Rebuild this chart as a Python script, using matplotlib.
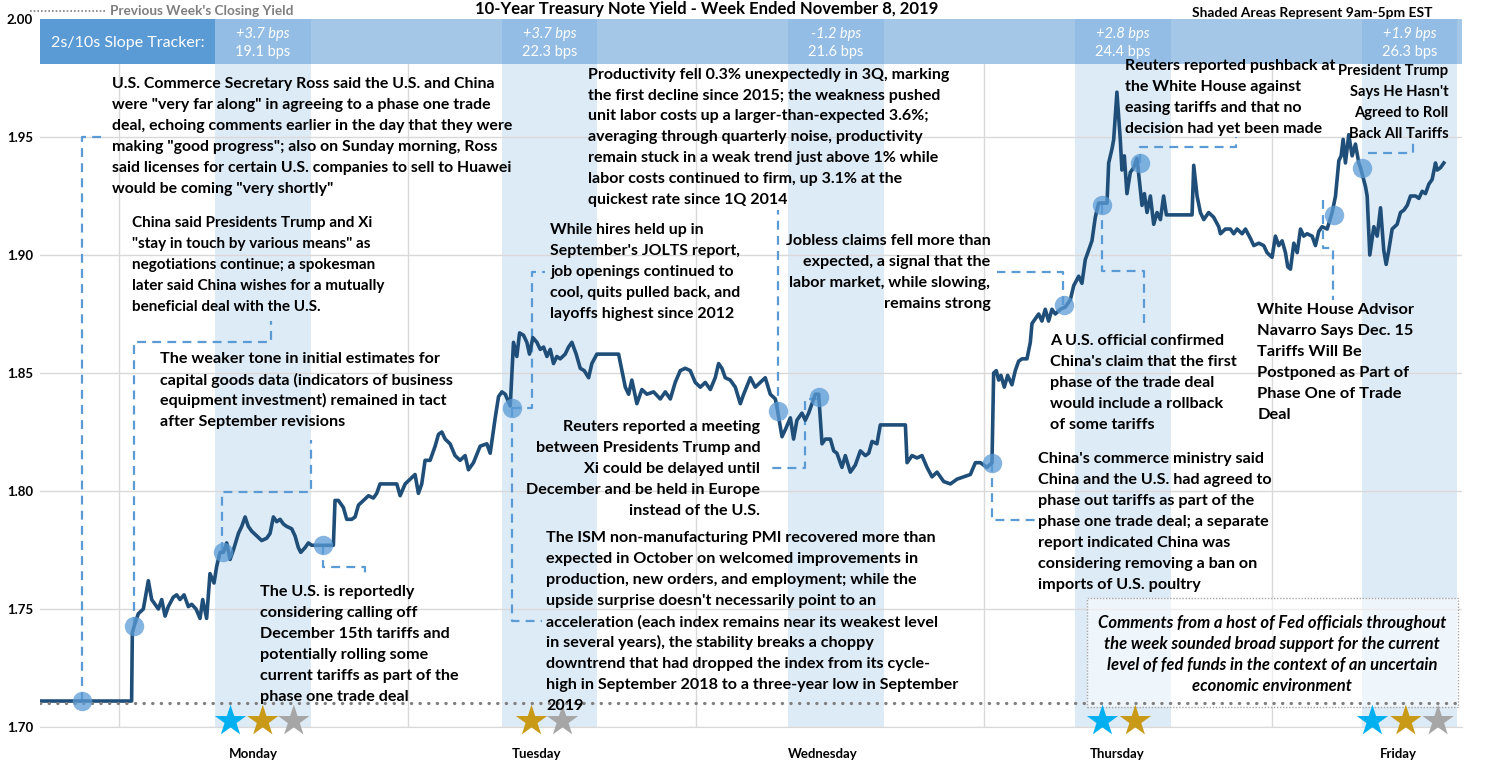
import matplotlib
matplotlib.use("Agg")
import matplotlib.pyplot as plt
from matplotlib.patches import Rectangle
from matplotlib.lines import Line2D

plt.rcParams['font.family'] = ['Lato', 'DejaVu Sans']

# hours since Monday 00:00 EST  /  10-year yield (%)
hours = [-5.65, 2.02, 2.08, 2.25, 2.58, 3.00, 3.42, 3.70, 3.98, 4.26, 4.54, 4.82, 5.09, 5.51, 5.79,
         6.07, 6.41, 6.77, 7.05, 7.41, 7.75, 7.97, 8.30, 8.58, 8.92, 9.14, 9.42, 9.70, 9.98, 10.26,
         10.54, 10.96, 11.24, 11.52, 11.79, 12.07, 12.49, 12.91, 13.33, 13.61, 13.89, 14.17, 14.45,
         14.73, 15.00, 15.42, 15.70, 15.98, 16.18, 16.54, 16.82, 17.10, 18.91, 19.05, 19.33, 19.75,
         20.03, 20.45, 20.73, 21.01, 21.43, 21.85, 22.26, 22.54, 22.82, 23.24, 24.22, 24.50, 24.92,
         25.33, 25.75, 26.03, 26.31, 26.59, 27.01, 27.43, 27.71, 27.99, 28.27, 28.68, 29.10, 29.52,
         29.94, 30.22, 30.64, 31.20, 31.76, 32.04, 32.46, 32.74, 33.02, 33.30, 33.72, 33.99, 34.27,
         34.50, 34.83, 35.11, 35.33, 35.61, 35.95, 36.23, 36.51, 36.79, 37.07, 37.34, 37.62, 37.90,
         38.32, 38.60, 38.88, 39.24, 39.58, 39.91, 40.28, 40.55, 40.97, 42.79, 43.07, 43.35, 43.63,
         43.90, 44.32, 44.74, 45.16, 45.72, 46.28, 46.70, 47.12, 47.53, 47.95, 48.37, 48.79, 49.21,
         49.63, 50.05, 50.47, 50.88, 51.16, 51.44, 51.72, 52.14, 52.56, 52.98, 53.26, 53.82, 54.23,
         54.65, 55.07, 55.49, 55.91, 56.10, 56.47, 56.75, 57.17, 57.44, 57.72, 58.14, 58.42, 58.70,
         58.98, 59.26, 59.54, 59.82, 60.10, 60.52, 60.80, 61.07, 61.49, 61.77, 62.19, 62.61, 63.03,
         63.45, 63.73, 64.01, 64.42, 64.70, 66.80, 66.94, 67.36, 67.77, 68.19, 68.61, 69.03, 69.45,
         70.01, 70.57, 71.12, 71.68, 72.24, 72.66, 73.08, 73.63, 74.05, 74.19, 74.41, 74.61, 74.80,
         75.08, 75.36, 75.72, 76.00, 76.28, 76.56, 76.98, 77.26, 77.40, 77.68, 77.96, 78.23, 78.51,
         78.79, 79.07, 79.35, 79.77, 80.19, 80.61, 80.89, 81.31, 81.58, 81.86, 82.14, 82.42, 82.70,
         82.98, 83.68, 83.82, 84.10, 84.24, 84.51, 84.79, 84.93, 85.13, 85.35, 85.63, 85.91, 86.19,
         86.61, 86.81, 87.03, 87.31, 87.59, 87.87, 88.15, 88.42, 88.65, 90.80, 90.94, 91.22, 91.50,
         91.78, 92.19, 92.61, 93.03, 93.18, 93.59, 94.01, 94.29, 94.57, 94.99, 95.27, 95.69, 95.97,
         96.39, 96.80, 97.08, 97.50, 97.78, 98.06, 98.34, 98.62, 98.81, 99.04, 99.32, 99.60, 99.88,
         100.15, 100.43, 100.85, 101.13, 101.41, 101.69, 102.11, 102.53, 102.81, 103.09, 103.28,
         103.45, 103.64, 103.92, 104.20, 104.48, 104.76, 104.90, 105.32, 105.46, 105.68, 106.02,
         106.30, 106.58, 106.85, 107.05, 107.27, 107.55, 107.97, 108.25, 108.53, 108.81, 109.09,
         109.51, 109.79, 110.07, 110.34, 110.62, 110.90, 111.18, 111.32, 111.60, 111.88]
yields = [1.711, 1.711, 1.740, 1.743, 1.748, 1.750, 1.762, 1.754, 1.752, 1.750, 1.754, 1.747, 1.751,
          1.755, 1.756, 1.754, 1.756, 1.751, 1.752, 1.750, 1.746, 1.754, 1.746, 1.765, 1.761, 1.768,
          1.774, 1.774, 1.778, 1.771, 1.775, 1.782, 1.785, 1.789, 1.785, 1.783, 1.781, 1.779, 1.780,
          1.782, 1.789, 1.787, 1.788, 1.786, 1.785, 1.784, 1.781, 1.776, 1.774, 1.776, 1.778, 1.777,
          1.777, 1.796, 1.796, 1.793, 1.788, 1.788, 1.789, 1.794, 1.796, 1.798, 1.797, 1.799, 1.803,
          1.803, 1.803, 1.798, 1.803, 1.805, 1.807, 1.799, 1.803, 1.813, 1.813, 1.819, 1.824, 1.825,
          1.822, 1.820, 1.815, 1.813, 1.815, 1.809, 1.812, 1.819, 1.820, 1.816, 1.831, 1.840, 1.842,
          1.841, 1.836, 1.863, 1.857, 1.867, 1.866, 1.863, 1.858, 1.865, 1.863, 1.860, 1.861, 1.857,
          1.860, 1.854, 1.857, 1.856, 1.858, 1.861, 1.863, 1.858, 1.852, 1.851, 1.848, 1.854, 1.858,
          1.858, 1.851, 1.844, 1.841, 1.847, 1.837, 1.843, 1.841, 1.842, 1.839, 1.842, 1.839, 1.846,
          1.851, 1.852, 1.851, 1.846, 1.844, 1.846, 1.843, 1.848, 1.854, 1.852, 1.848, 1.847, 1.844,
          1.837, 1.841, 1.848, 1.844, 1.846, 1.848, 1.841, 1.839, 1.834, 1.823, 1.826, 1.831, 1.822,
          1.830, 1.833, 1.830, 1.833, 1.837, 1.841, 1.841, 1.820, 1.822, 1.822, 1.817, 1.816, 1.810,
          1.815, 1.808, 1.811, 1.817, 1.815, 1.816, 1.821, 1.820, 1.828, 1.828, 1.812, 1.815, 1.814,
          1.815, 1.810, 1.806, 1.808, 1.804, 1.803, 1.805, 1.806, 1.807, 1.812, 1.812, 1.810, 1.812,
          1.850, 1.851, 1.847, 1.849, 1.844, 1.849, 1.845, 1.851, 1.855, 1.856, 1.856, 1.863, 1.871,
          1.873, 1.875, 1.872, 1.877, 1.872, 1.877, 1.875, 1.877, 1.878, 1.881, 1.887, 1.891, 1.888,
          1.898, 1.902, 1.906, 1.916, 1.922, 1.922, 1.939, 1.945, 1.949, 1.969, 1.949, 1.936, 1.942,
          1.926, 1.935, 1.937, 1.941, 1.921, 1.926, 1.918, 1.925, 1.913, 1.918, 1.915, 1.925, 1.917,
          1.917, 1.938, 1.925, 1.918, 1.915, 1.918, 1.916, 1.912, 1.909, 1.911, 1.911, 1.909, 1.911,
          1.909, 1.911, 1.907, 1.904, 1.905, 1.904, 1.901, 1.899, 1.908, 1.904, 1.906, 1.901, 1.895,
          1.894, 1.905, 1.901, 1.911, 1.908, 1.909, 1.908, 1.904, 1.910, 1.912, 1.911, 1.918, 1.925,
          1.940, 1.942, 1.949, 1.939, 1.951, 1.942, 1.947, 1.939, 1.937, 1.929, 1.925, 1.900, 1.912,
          1.908, 1.920, 1.902, 1.896, 1.902, 1.911, 1.913, 1.918, 1.919, 1.921, 1.925, 1.925, 1.924,
          1.927, 1.926, 1.930, 1.932, 1.939, 1.936, 1.937, 1.939]

prev_close = 1.71

# news events marked on the line
event_hours = [-2.14, 2.25, 9.70, 18.08, 33.85, 56.10, 59.54, 74.05, 80.05, 83.26, 86.41, 102.67, 105.04]
event_yields = [1.711, 1.743, 1.774, 1.777, 1.835, 1.834, 1.840, 1.812, 1.879, 1.921, 1.939, 1.917, 1.937]

days = ["Monday", "Tuesday", "Wednesday", "Thursday", "Friday"]
day_label_hours = [12.2, 35.9, 59.9, 84.5, 108.1]
grid_hours = [1.0, 25.2, 49.3, 73.4, 97.5]
slope_change = ["+3.7", "+3.7", "-1.2", "+2.8", "+1.9"]
slope_level = [19.1, 22.3, 21.6, 24.4, 26.3]

star_hours = [10.3, 13.0, 15.6, 35.5, 38.1, 83.3, 86.05, 105.9, 108.7, 111.4]
star_colors = ['#00B0F0', '#C99A17', '#A6A6A6', '#C99A17', '#A6A6A6',
               '#00B0F0', '#C99A17', '#00B0F0', '#C99A17', '#A6A6A6']

# text, x, y (block centre), alignment, font size
notes = [
    ("U.S. Commerce Secretary Ross said the U.S. and China\nwere \"very far along\" in agreeing to a phase one trade\n"
     "deal, echoing comments earlier in the day that they were\nmaking \"good progress\"; also on Sunday morning, Ross\n"
     "said licenses for certain U.S. companies to sell to Huawei\nwould be coming \"very shortly\"", 0.38, 1.9502, 'left', 11.4),
    ("China said Presidents Trump and Xi\n\"stay in touch by various means\" as\nnegotiations continue; a spokesman\n"
     "later said China wishes for a mutually\nbeneficial deal with the U.S.", 2.05, 1.8956, 'left', 11.0),
    ("The weaker tone in initial estimates for\ncapital goods data (indicators of business\n"
     "equipment investment) remained in tact\nafter September revisions", 4.40, 1.8426, 'left', 11.6),
    ("The U.S. is reportedly\nconsidering calling off\nDecember 15th tariffs and\npotentially rolling some\n"
     "current tariffs as part of the\nphase one trade deal", 12.77, 1.735, 'left', 11.6),
    ("Productivity fell 0.3% unexpectedly in 3Q, marking\nthe first decline since 2015; the weakness pushed\n"
     "unit labor costs up a larger-than-expected 3.6%;\naveraging through quarterly noise, productivity\n"
     "remain stuck in a weak trend just above 1% while\nlabor costs continued to firm, up 3.1% at the\n"
     "quickest rate since 1Q 2014", 40.24, 1.9498, 'left', 11.5),
    ("While hires held up in\nSeptember's JOLTS report,\njob openings continued to\ncool, quits pulled back, and\n"
     "layoffs highest since 2012", 37.06, 1.8928, 'left', 11.4),
    ("Reuters reported a meeting\nbetween Presidents Trump and\nXi could be delayed until\n"
     "December and be held in Europe\ninstead of the U.S.", 54.65, 1.8093, 'right', 11.6),
    ("The ISM non-manufacturing PMI recovered more than\nexpected in October on welcomed improvements in\n"
     "production, new orders, and employment; while the\nupside surprise doesn't necessarily point to an\n"
     "acceleration (each index remains near its weakest level\nin several years), the stability breaks a choppy\n"
     "downtrend that had dropped the index from its cycle-\nhigh in September 2018 to a three-year low in September\n"
     "2019", 36.73, 1.7445, 'left', 11.6),
    ("Jobless claims fell more than\nexpected, a signal that the\nlabor market, while slowing,\nremains strong",
     73.91, 1.8926, 'right', 11.6),
    ("A U.S. official confirmed\nChina's claim that the first\nphase of the trade deal\nwould include a rollback\n"
     "of some tariffs", 78.94, 1.8456, 'left', 11.6),
    ("China's commerce ministry said\nChina and the U.S. had agreed to\nphase out tariffs as part of the\n"
     "phase one trade deal; a separate\nreport indicated China was\nconsidering removing a ban on\n"
     "imports of U.S. poultry", 77.93, 1.7867, 'left', 11.6),
    ("Reuters reported pushback at\nthe White House against\neasing tariffs and that no\ndecision had yet been made",
     85.22, 1.9668, 'left', 11.5),
    ("President Trump\nSays He Hasn't\nAgreed to Roll\nBack All Tariffs", 112.26, 1.9648, 'right', 10.6),
    ("White House Advisor\nNavarro Says Dec. 15\nTariffs Will Be\nPostponed as Part of\nPhase One of Trade\nDeal",
     96.27, 1.8545, 'left', 11.8),
]

connectors = [
    ([-2.14, -2.14, -0.21], [1.711, 1.950, 1.950]),
    ([2.22, 2.22, 13.69, 13.69], [1.743, 1.863, 1.863, 1.872]),
    ([9.59, 9.59, 17.04, 17.04], [1.7746, 1.7996, 1.7996, 1.8216]),
    ([18.05, 18.05, 21.57, 21.57], [1.777, 1.768, 1.768, 1.763]),
    ([33.88, 35.55, 35.55, 36.64], [1.835, 1.835, 1.893, 1.893]),
    ([33.88, 33.88, 36.39], [1.835, 1.745, 1.745]),
    ([56.16, 56.16], [1.834, 1.919]),
    ([59.50, 58.42, 58.42, 55.24], [1.839, 1.839, 1.8097, 1.8097]),
    ([74.08, 74.08, 77.68], [1.812, 1.7877, 1.7877]),
    ([80.03, 80.03, 74.50], [1.879, 1.8928, 1.8928]),
    ([83.29, 83.29, 86.81, 86.81], [1.921, 1.8932, 1.8932, 1.869]),
    ([86.41, 86.41, 94.52, 94.52], [1.939, 1.9458, 1.9458, 1.950]),
    ([101.80, 101.80, 102.64, 102.64], [1.9233, 1.903, 1.903, 1.881]),
    ([105.49, 109.26, 109.26], [1.9432, 1.9432, 1.9475]),
]

fed_note = ("Comments from a host of Fed officials throughout\nthe week sounded broad support for the current\n"
            "level of fed funds in the context of an uncertain\neconomic environment")

NAVY = '#1F4E79'
MID = '#5B9BD5'
PITCH = 15.1  # points between text lines (~21px)


def block(ax, txt, x, y, ha, fs, **kw):
    # one text per line so every block keeps the same line pitch
    lines = txt.split("\n")
    for i, line in enumerate(lines):
        dy = ((len(lines) - 1) / 2 - i) * PITCH
        ax.annotate(line, (x, y), xytext=(0, dy), textcoords='offset points', ha=ha, va='center',
                    fontsize=fs, fontweight='bold', zorder=7, **kw)


fig = plt.figure(figsize=(14.87, 7.64), dpi=100)
ax = fig.add_axes([40 / 1487, 37 / 764, 1422 / 1487, 708 / 764])
ax.set_xlim(-5.65, 113.4)
ax.set_ylim(1.70, 2.00)

for s in ['top', 'right', 'left']:
    ax.spines[s].set_visible(False)
ax.spines['bottom'].set_color('#D9D9D9')

yt = [1.70, 1.75, 1.80, 1.85, 1.90, 1.95, 2.00]
ax.set_yticks(yt)
ax.set_yticklabels(["%.2f" % v for v in yt], fontweight='bold', fontsize=9.5)
ax.set_xticks(day_label_hours)
ax.set_xticklabels(days, fontweight='bold', fontsize=9.5)
ax.set_xticks(grid_hours, minor=True)
ax.tick_params(axis='both', which='both', length=0)
ax.tick_params(axis='x', pad=15)
ax.tick_params(axis='y', pad=5)
ax.grid(axis='y', color='#D9D9D9', lw=1, zorder=0.5)
ax.grid(axis='x', which='minor', color='#D9D9D9', lw=1, zorder=0.5)
ax.set_axisbelow(True)

# 9am-5pm shading
for d in range(5):
    ax.axvspan(d * 24 + 9, d * 24 + 17, color='#DDEBF7', zorder=0.3, lw=0)

# previous close and the yield line
ax.plot(hours, yields, color=NAVY, lw=2.6, zorder=3, solid_joinstyle='round')
ax.axhline(prev_close, color='#7F7F7F', lw=2.3, ls=(0, (0.1, 2.6)), dash_capstyle='round', zorder=3.5)

for xs, ys in connectors:
    ax.plot(xs, ys, color=MID, lw=1.6, ls=(0, (4, 2.8)), zorder=2.5)
ax.plot(event_hours, event_yields, 'o', ms=14, color=MID, alpha=0.75, mec='none', zorder=4)

for txt, x, y, ha, fs in notes:
    block(ax, txt, x, y, ha, fs)

# Fed comments box
ax.add_patch(Rectangle((82.03, 1.7085), 31.0, 0.0462, facecolor='white', alpha=0.5,
                       edgecolor='none', zorder=2))
ax.add_patch(Rectangle((82.03, 1.7085), 31.0, 0.0462, facecolor='none', edgecolor='#A6A6A6',
                       lw=1, ls=(0, (1, 1.2)), zorder=2.1))
block(ax, fed_note, 97.5, 1.7309, 'center', 12, style='italic')

# stars along the axis
ax.scatter(star_hours, [1.7025] * len(star_hours), marker='*', s=560, c=star_colors,
           edgecolors='none', zorder=5, clip_on=False)

# 2s/10s slope tracker band
xt = ax.get_xaxis_transform()
ax.add_patch(Rectangle((0, 0.9364), 0.124, 0.0636, transform=ax.transAxes, color=MID, lw=0, zorder=6))
ax.add_patch(Rectangle((0.124, 0.9364), 0.876, 0.0636, transform=ax.transAxes, color='#A4C7E8',
                       lw=0, zorder=6))
for d in range(5):
    ax.add_patch(Rectangle((d * 24 + 9, 0.9364), 8, 0.0636, transform=xt, color='#93BDE4',
                           lw=0, zorder=6.1))
    ax.text(d * 24 + 13, 0.979, slope_change[d] + " bps", transform=xt, ha='center', va='center',
            color='white', fontsize=10.5, style='italic', zorder=7)
    ax.text(d * 24 + 13, 0.953, "%.1f bps" % slope_level[d], transform=xt, ha='center', va='center',
            color='white', fontsize=10.5, zorder=7)
ax.text(0.062, 0.966, "2s/10s Slope Tracker:", transform=ax.transAxes, ha='center', va='center',
        color='white', fontsize=11.5, zorder=7)

# header texts
fig.text(0.4755, 0.988, "10-Year Treasury Note Yield - Week Ended November 8, 2019", ha='center',
         va='center', fontsize=12, fontweight='bold')
fig.add_artist(Line2D([30 / 1487, 105 / 1487], [0.9856, 0.9856], color='#7F7F7F', lw=1.2,
                      ls=(0, (1, 1.2))))
fig.text(110 / 1487, 0.9856, "Previous Week's Closing Yield", ha='left', va='center', fontsize=9.8,
         fontweight='bold', color='#7F7F7F')
fig.text(1432 / 1487, 0.983, "Shaded Areas Represent 9am-5pm EST", ha='right', va='center',
         fontsize=9.9, fontweight='bold')

fig.savefig("out.png", dpi=100)
